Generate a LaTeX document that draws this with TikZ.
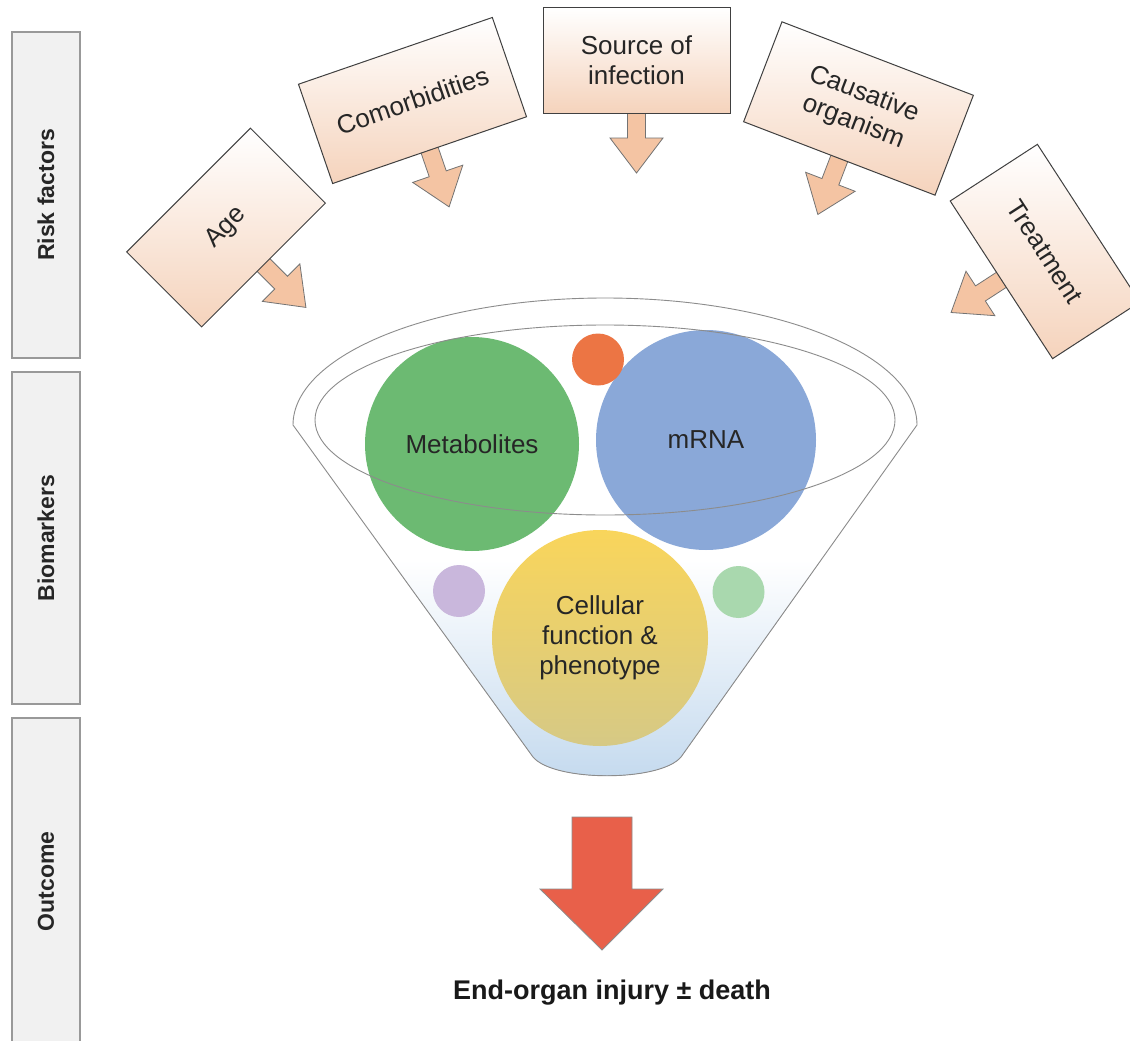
\documentclass[tikz,border=0pt]{standalone}
\usepackage{fontspec}
\setmainfont{Liberation Sans}
\definecolor{peachbox}{HTML}{F5D3BC}
\definecolor{peacharrow}{HTML}{F4C4A3}
\definecolor{barfill}{HTML}{F1F1F1}
\definecolor{metgreen}{HTML}{6CBA72}
\definecolor{rnablue}{HTML}{8AA8D8}
\definecolor{dotorange}{HTML}{EC7544}
\definecolor{dotpurple}{HTML}{C9B7DC}
\definecolor{dotgreen}{HTML}{A9D8AE}
\definecolor{celltop}{HTML}{F9D55B}
\definecolor{cellbot}{HTML}{D6C985}
\definecolor{funnelblue}{HTML}{C3D9EE}
\definecolor{arrowred}{HTML}{E8604A}
\newcommand{\callout}[7]{%
  \begin{scope}[shift={(#2,-#3)}, rotate=#4]
    \draw[calloutarrow] (-9,{-#6/2+2}) -- (-9,{-#6/2-25}) -- (-26.5,{-#6/2-25}) -- (0,{-#6/2-60})
      -- (26.5,{-#6/2-25}) -- (9,{-#6/2-25}) -- (9,{-#6/2+2});
    \node[calloutbox, minimum width=#5, minimum height=#6, rotate=#4] (#1) at (0,0) {#7};
  \end{scope}}
\newcommand{\funnelpath}{(293,-425) arc[start angle=180, end angle=0, x radius=312, y radius=127]
  -- (681,-757) .. controls (660,-782) and (554,-782) .. (533,-757) -- cycle}
\begin{document}
\begin{tikzpicture}[x=1pt,y=1pt,
  sidebar/.style={draw=black!40, line width=1.3pt, fill=barfill, rotate=90,
    font=\bfseries\fontsize{23}{27}\selectfont, text=black!85, inner sep=0pt},
  calloutbox/.style={draw=black!75, line width=1pt, top color=white, bottom color=peachbox,
    align=center, font=\fontsize{26}{30}\selectfont, text=black!85, inner sep=0pt},
  calloutarrow/.style={draw=black!55, line width=0.8pt, fill=peacharrow, line join=miter},
  blob/.style={circle, inner sep=0pt, align=center, font=\fontsize{26}{30}\selectfont, text=black!85},
  rim/.style={draw=black!45, line width=0.9pt},
]
\useasboundingbox[fill=white] (0,0) rectangle (1130,-1041);

% side bars
\node[sidebar, minimum width=326, minimum height=68] (rf) at (46,-195) {Risk factors};
\node[sidebar, minimum width=332, minimum height=68] (bm) at (46,-538) {Biomarkers};
\node[sidebar, minimum width=327, minimum height=68] (oc) at (46,-881.5) {Outcome};

% funnel body: white above, pale blue towards the spout
\begin{scope}
  \clip \funnelpath;
  \fill[top color=white, bottom color=funnelblue] (280,-560) rectangle (930,-785);
\end{scope}

% biomarker circles
\node[blob, fill=metgreen, minimum size=214] (metab) at (472,-444) {Metabolites};
\node[blob, fill=rnablue, minimum size=220] (mrna) at (706,-440) {mRNA};
\node[blob, fill=dotorange, minimum size=52] (dorange) at (598,-359.5) {};
\node[blob, top color=celltop, bottom color=cellbot, minimum size=216] (cell) at (600,-638)
  {Cellular\\function \&\\phenotype};
\node[blob, fill=dotpurple, minimum size=52] (dpurple) at (459,-591) {};
\node[blob, fill=dotgreen, minimum size=52] (dgreen) at (738.5,-592) {};

% funnel outlines
\draw[rim] \funnelpath;
\draw[rim] (605,-420) ellipse[x radius=290, y radius=95];

% risk factor callouts
\callout{age}{226}{227.5}{45}{175}{106}{Age}
\callout{comorb}{412.5}{100.5}{19}{205}{105}{Comorbidities}
\callout{source}{636.5}{60.5}{0}{187}{105}{Source of\\infection}
\callout{causative}{858.5}{108.5}{-21}{205}{107}{Causative\\organism}
\callout{treat}{1045}{251.5}{-57}{188}{104}{Treatment}

% outcome arrow and text
\draw[fill=arrowred, draw=black!45, line width=0.8pt]
  (572,-817) -- (632,-817) -- (632,-889) -- (663,-889) -- (602,-950) -- (540,-889) -- (572,-889) -- cycle;
\node[font=\bfseries\fontsize{27}{30}\selectfont, text=black!90] (outcome) at (612,-993) {End-organ injury ± death};
\end{tikzpicture}
\end{document}
